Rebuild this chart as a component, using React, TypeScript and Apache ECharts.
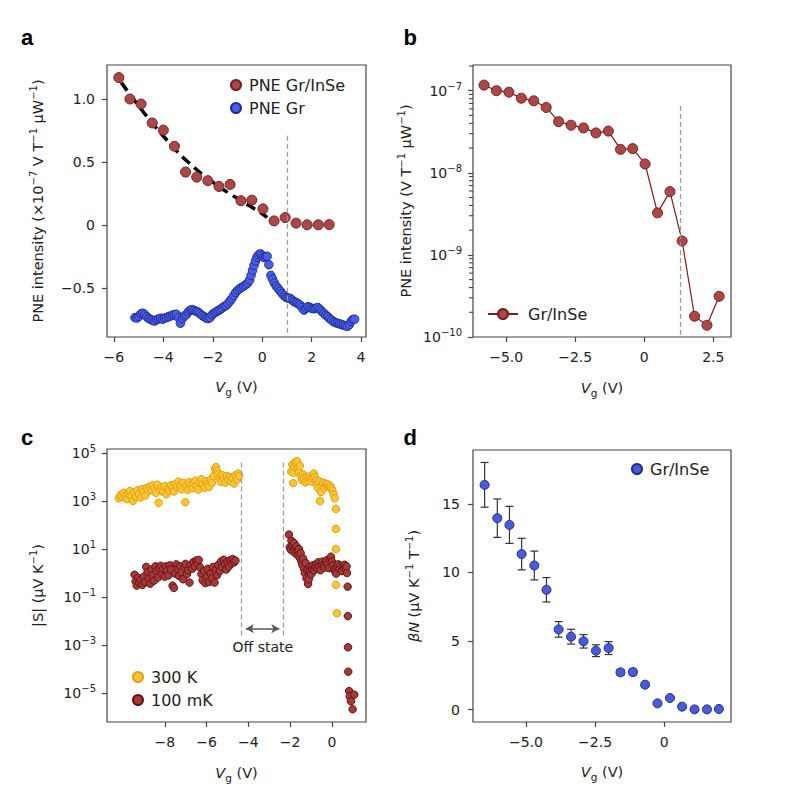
import React, { useEffect, useRef } from 'react';
import * as echarts from 'echarts';

const FONT = '"DejaVu Sans", "Liberation Sans", Arial, sans-serif';
const FONT_BOLD = '"Liberation Sans", Arial, sans-serif';
const TXT = '#222';
const FRAME = '#454545';

// ---------- Panels a & b: PNE of Gr/InSe ----------
const vgGrInSe = [-5.8, -5.35, -4.9, -4.45, -4.0, -3.55, -3.1, -2.65, -2.2, -1.75, -1.3, -0.86, -0.42, 0.03, 0.48, 0.93, 1.37, 1.82, 2.27, 2.71];
const pneGrInSe = [1.17e-7, 1.0e-7, 0.96e-7, 0.81e-7, 0.753e-7, 0.625e-7, 0.42e-7, 0.38e-7, 0.352e-7, 0.306e-7, 0.322e-7, 0.193e-7, 0.197e-7, 0.128e-7, 0.0325e-7, 0.059e-7, 0.0148e-7, 0.00179e-7, 0.00139e-7, 0.00313e-7];

// dashed black guide in panel a
const fitV = [-5.7, -4.7, -3.7, -3.0, -2.0, -1.0, 0.0, 0.2];
const fitVal = [1.13, 0.87, 0.64, 0.5, 0.34, 0.21, 0.09, 0.06];

// PNE of bare graphene (panel a, blue)
const grV = [-5.15, -5.07, -4.99, -4.91, -4.83, -4.75, -4.67, -4.59, -4.51, -4.43, -4.35, -4.27, -4.19, -4.11, -4.03, -3.95, -3.87, -3.79, -3.71, -3.63, -3.55, -3.47, -3.39, -3.31, -3.23, -3.15, -3.07, -2.99, -2.91, -2.83, -2.75, -2.67, -2.59, -2.51, -2.43, -2.35, -2.27, -2.19, -2.11, -2.03, -1.95, -1.87, -1.79, -1.71, -1.63, -1.55, -1.47, -1.39, -1.31, -1.23, -1.15, -1.07, -0.99, -0.91, -0.83, -0.75, -0.67, -0.59, -0.51, -0.45, -0.39, -0.33, -0.27, -0.21, -0.14, -0.07, 0.0, 0.07, 0.14, 0.2, 0.27, 0.35, 0.42, 0.49, 0.57, 0.65, 0.73, 0.81, 0.89, 0.97, 1.05, 1.13, 1.21, 1.29, 1.37, 1.45, 1.53, 1.61, 1.69, 1.77, 1.85, 1.93, 2.01, 2.09, 2.17, 2.25, 2.33, 2.41, 2.49, 2.57, 2.65, 2.73, 2.81, 2.89, 2.97, 3.05, 3.13, 3.21, 3.29, 3.37, 3.45, 3.53, 3.6, 3.67, 3.74];
const grVal = [-0.735, -0.738, -0.725, -0.705, -0.7, -0.712, -0.728, -0.742, -0.75, -0.758, -0.762, -0.752, -0.745, -0.74, -0.748, -0.738, -0.735, -0.728, -0.722, -0.715, -0.712, -0.708, -0.735, -0.78, -0.742, -0.722, -0.712, -0.69, -0.676, -0.672, -0.678, -0.685, -0.692, -0.705, -0.718, -0.728, -0.738, -0.742, -0.735, -0.712, -0.7, -0.69, -0.68, -0.672, -0.66, -0.648, -0.64, -0.625, -0.605, -0.585, -0.56, -0.535, -0.518, -0.505, -0.495, -0.485, -0.475, -0.462, -0.438, -0.4, -0.36, -0.32, -0.285, -0.255, -0.235, -0.228, -0.245, -0.258, -0.252, -0.248, -0.315, -0.4, -0.43, -0.46, -0.485, -0.505, -0.525, -0.545, -0.562, -0.575, -0.58, -0.582, -0.595, -0.608, -0.615, -0.625, -0.635, -0.655, -0.675, -0.66, -0.648, -0.655, -0.662, -0.665, -0.66, -0.655, -0.668, -0.685, -0.7, -0.715, -0.728, -0.742, -0.755, -0.768, -0.775, -0.78, -0.785, -0.79, -0.795, -0.8, -0.805, -0.79, -0.765, -0.75, -0.748];

// ---------- Panel c: |S| (µV/K) ----------
const s300K: [number, number][] = [
  [-10.2, 1.3e3], [-10.12, 1.8e3], [-10.05, 1.5e3], [-9.98, 2.2e3], [-9.9, 1.6e3], [-9.83, 1.2e3], [-9.76, 2.0e3], [-9.68, 2.6e3], [-9.6, 1.7e3], [-9.53, 1.0e3],
  [-9.46, 2.3e3], [-9.38, 1.5e3], [-9.31, 2.8e3], [-9.24, 1.9e3], [-9.16, 1.4e3], [-9.09, 3.2e3], [-9.02, 2.4e3], [-8.94, 1.7e3], [-8.87, 3.5e3], [-8.8, 2.6e3],
  [-8.72, 4.0e3], [-8.65, 2.9e3], [-8.58, 4.5e3], [-8.5, 3.3e3], [-8.43, 2.2e3], [-8.36, 4.8e3], [-8.3, 0.85e3], [-8.22, 3.0e3], [-8.15, 3.8e3], [-8.08, 2.4e3],
  [-8.0, 4.2e3], [-7.93, 1.9e3], [-7.86, 3.3e3], [-7.78, 2.7e3], [-7.71, 4.6e3], [-7.64, 3.6e3], [-7.56, 2.5e3], [-7.49, 5.2e3], [-7.42, 3.9e3], [-7.35, 6.5e3],
  [-7.27, 4.4e3], [-7.2, 3.1e3], [-7.13, 5.8e3], [-7.02, 0.9e3], [-6.98, 4.1e3], [-6.91, 2.9e3], [-6.84, 6.2e3], [-6.76, 4.7e3], [-6.69, 3.4e3], [-6.62, 5.5e3],
  [-6.54, 7.0e3], [-6.47, 4.2e3], [-6.4, 3.0e3], [-6.32, 6.0e3], [-6.25, 8.2e3], [-6.18, 4.9e3], [-6.1, 3.6e3], [-6.03, 6.8e3], [-5.96, 5.1e3], [-5.88, 3.9e3],
  [-5.81, 7.6e3], [-5.74, 5.8e3], [-5.67, 1.1e4], [-5.6, 2.2e4], [-5.55, 2.6e4], [-5.5, 1.8e4], [-5.44, 1.3e4], [-5.38, 9.0e3], [-5.32, 6.4e3], [-5.25, 1.2e4],
  [-5.18, 8.5e3], [-5.11, 5.9e3], [-5.04, 1.1e4], [-4.97, 7.7e3], [-4.9, 1.0e4], [-4.83, 6.6e3], [-4.76, 9.2e3], [-4.69, 5.4e3], [-4.62, 1.2e4], [-4.55, 8.0e3],
  [-4.48, 1.4e4], [-4.44, 1.1e4],
  [-1.95, 1.7e4], [-1.9, 3.3e4], [-1.86, 5.6e3], [-1.84, 1.5e4], [-1.8, 2.8e4], [-1.76, 4.2e4], [-1.7, 3.6e4], [-1.66, 4.6e4], [-1.62, 2.4e4], [-1.58, 1.6e4],
  [-1.54, 2.9e4], [-1.49, 1.1e4], [-1.44, 7.5e3], [-1.39, 1.3e4], [-1.34, 8.8e3], [-1.28, 6.0e3], [-1.22, 9.5e3], [-1.16, 7.0e3], [-1.1, 1.05e4], [-1.04, 8.2e3],
  [-0.98, 6.5e3], [-0.92, 9.0e3], [-0.87, 1.4e4], [-0.82, 1.0e4], [-0.77, 7.2e3], [-0.72, 5.0e3], [-0.67, 3.6e3], [-0.62, 6.8e3], [-0.57, 1.0e3], [-0.52, 2.4e3],
  [-0.47, 4.6e3], [-0.42, 5.8e3], [-0.36, 3.6e3], [-0.3, 5.3e3], [-0.25, 4.4e3], [-0.19, 5.0e3], [-0.13, 3.9e3], [-0.07, 4.2e3], [-0.02, 3.3e3], [0.03, 2.6e3],
  [0.08, 1.9e3], [0.13, 1.3e3], [0.19, 4.7e2], [0.19, 68], [0.19, 10], [0.19, 0.32], [0.24, 0.021],
];
const s100mK: [number, number][] = [
  [-9.45, 0.85], [-9.4, 0.45], [-9.35, 0.3], [-9.28, 0.62], [-9.22, 0.38], [-9.15, 0.52], [-9.08, 0.32], [-9.01, 0.7], [-8.95, 0.42], [-8.89, 1.8],
  [-8.83, 1.1], [-8.77, 0.58], [-8.7, 0.36], [-8.64, 1.4], [-8.58, 0.8], [-8.52, 0.48], [-8.45, 1.9], [-8.39, 1.2], [-8.33, 0.65], [-8.27, 1.6],
  [-8.2, 2.0], [-8.14, 0.95], [-8.08, 1.5], [-8.01, 0.7], [-7.95, 1.9], [-7.89, 1.25], [-7.82, 0.8], [-7.76, 2.1], [-7.7, 1.4], [-7.63, 0.3],
  [-7.57, 0.24], [-7.51, 0.95], [-7.45, 2.3], [-7.38, 1.5], [-7.32, 0.75], [-7.26, 1.9], [-7.2, 1.1], [-7.13, 0.55], [-7.07, 1.7], [-7.01, 2.4],
  [-6.94, 0.9], [-6.88, 1.3], [-6.82, 0.4], [-6.76, 2.2], [-6.69, 1.5], [-6.63, 2.9], [-6.57, 1.9], [-6.5, 3.3], [-6.44, 2.6], [-6.38, 3.5],
  [-6.31, 1.7], [-6.25, 0.9], [-6.19, 0.5], [-6.12, 1.2], [-6.06, 0.38], [-6.0, 0.7], [-5.94, 1.5], [-5.88, 0.42], [-5.81, 0.95], [-5.75, 0.6],
  [-5.69, 1.8], [-5.62, 0.4], [-5.56, 1.3], [-5.5, 0.8], [-5.44, 2.2], [-5.37, 1.2], [-5.31, 3.0], [-5.25, 1.8], [-5.18, 3.6], [-5.12, 2.4],
  [-5.06, 1.4], [-5.0, 2.9], [-4.93, 1.9], [-4.87, 3.4], [-4.81, 2.5], [-4.75, 3.8], [-4.68, 2.8], [-4.62, 3.3],
  [-2.06, 40], [-2.02, 12], [-1.98, 9.5], [-1.94, 22], [-1.9, 14], [-1.86, 8], [-1.82, 18], [-1.78, 11], [-1.74, 6.5], [-1.7, 13],
  [-1.66, 8.5], [-1.62, 5.5], [-1.58, 10], [-1.54, 4.2], [-1.5, 6.8], [-1.46, 3.0], [-1.42, 2.2], [-1.38, 4.0], [-1.34, 1.5], [-1.3, 1.0],
  [-1.26, 2.6], [-1.22, 0.6], [-1.18, 1.3], [-1.14, 0.35], [-1.11, 0.55], [-1.07, 1.2], [-1.03, 1.8], [-0.99, 0.9], [-0.95, 1.5], [-0.9, 2.1],
  [-0.85, 1.3], [-0.8, 1.8], [-0.75, 2.4], [-0.7, 1.6], [-0.65, 2.8], [-0.6, 1.9], [-0.55, 1.3], [-0.5, 2.5], [-0.45, 3.0], [-0.4, 2.1],
  [-0.35, 1.7], [-0.3, 2.8], [-0.25, 3.4], [-0.2, 2.3], [-0.15, 1.6], [-0.1, 3.8], [-0.05, 4.8], [0.0, 3.0], [0.05, 2.1], [0.1, 1.4],
  [0.15, 1.2], [0.2, 0.95], [0.25, 1.7], [0.3, 2.3], [0.36, 1.5], [0.42, 2.0], [0.48, 1.2], [0.54, 1.8], [0.6, 2.2], [0.65, 1.6],
  [0.7, 1.9], [0.72, 1.0], [0.75, 0.27], [0.76, 0.016], [0.77, 8e-4], [0.78, 7.7e-5], [0.82, 1.2e-5], [0.85, 7.2e-6], [0.91, 4.5e-6], [1.07, 8.5e-6],
  [0.99, 2.1e-6],
];
const offStateEdges = [-4.32, -2.32];

// ---------- Panel d: βN ----------
const dV = [-6.5, -6.04, -5.6, -5.16, -4.7, -4.26, -3.82, -3.37, -2.92, -2.47, -2.01, -1.58, -1.13, -0.69, -0.24, 0.21, 0.65, 1.1, 1.55, 1.98];
const dBetaN = [16.39, 13.96, 13.47, 11.34, 10.51, 8.74, 5.85, 5.32, 4.98, 4.3, 4.49, 2.72, 2.74, 1.82, 0.46, 0.85, 0.22, 0.02, 0.02, 0.05];
const dErr = [1.63, 1.4, 1.35, 1.15, 1.05, 0.89, 0.57, 0.54, 0.49, 0.43, 0.47, 0.22, 0.22, 0.1, 0.1, 0.1, 0.1, 0.1, 0.1, 0.1];

// tick values
const aXTicks = [-6, -4, -2, 0, 2, 4];
const aYTicks = [-0.5, 0, 0.5, 1.0];
const bXTicks = [-5, -2.5, 0, 2.5];
const bYDecades = [-10, -9, -8, -7];
const minorMult = [2, 3, 4, 5, 6, 7, 8, 9];
const cXTicks = [-8, -6, -4, -2, 0];
const cYDecades = [-5, -3, -1, 1, 3, 5];
const dXTicks = [-5, -2.5, 0];
const dYTicks = [0, 5, 10, 15];

const RED = '#a94848';
const RED_B = '#7b1c1c';
const BLUE = '#4a5ee0';
const BLUE_B = '#1e2d99';

const minus = (s: string) => s.replace('-', '\u2212');

const NAME_FS = 14.5;
const richBase = {
  t: { fontSize: NAME_FS, color: TXT, fontFamily: FONT },
  i: { fontSize: NAME_FS, color: TXT, fontFamily: FONT, fontStyle: 'italic' },
  s: { fontSize: 10, color: TXT, fontFamily: FONT, padding: [0, 0, 9, 0] },
  sub: { fontSize: 10.5, color: TXT, fontFamily: FONT, padding: [9, 0, 0, 0] },
};
const xName = '{i|V}{sub|g}{t| (V)}';
const tickLabel = { color: TXT, fontSize: 14, fontFamily: FONT };
const tickStyle = { length: 5, lineStyle: { color: FRAME, width: 1.2 } };
const noLine = { show: false, onZero: false };

function xAxis(grid: number, min: number, max: number, ticks: number[], fmt: (v: number) => string, nameGap: number) {
  return {
    type: 'value', gridIndex: grid, min, max,
    name: xName, nameLocation: 'middle', nameGap,
    nameTextStyle: { rich: richBase },
    axisLine: noLine,
    splitLine: { show: false },
    axisTick: { ...tickStyle, customValues: ticks },
    axisLabel: { ...tickLabel, margin: 13, customValues: ticks, formatter: fmt },
  };
}
function yAxis(grid: number, min: number, max: number, ticks: number[], fmt: (v: number) => string, name: string, nameGap: number, margin: number, rich: any = {}) {
  return {
    type: 'value', gridIndex: grid, min, max,
    name, nameLocation: 'middle', nameGap,
    nameTextStyle: { rich: richBase },
    axisLine: noLine,
    splitLine: { show: false },
    axisTick: { ...tickStyle, customValues: ticks },
    axisLabel: { ...tickLabel, margin, customValues: ticks, formatter: fmt, rich },
  };
}

const decimalFmt = (v: number) => (v === 0 ? '0' : minus(v.toFixed(1)));
const intFmt = (v: number) => minus(String(v));
const powRich = {
  b: { fontSize: 14, color: TXT, fontFamily: FONT },
  s: { fontSize: 10, color: TXT, fontFamily: FONT, padding: [0, 0, 9, 0] },
};
const powFmt = (v: number) => `{b|10}{s|${minus(String(v))}}`;
const legendText = { fontSize: 16, color: TXT, fontFamily: FONT, padding: [0, 0, 0, 3] };

function buildOption() {
  const bYMin = -10;
  const bYMax = -6.687;
  const bXMin = -6.2;
  const bMinor = bYDecades.flatMap((n) => minorMult.map((k) => n + Math.log10(k))).filter((v) => v < bYMax);
  const dashGray = { color: '#9a9a9a', width: 1.2, type: [5, 3] };

  return {
    animation: false,
    backgroundColor: '#fff',
    textStyle: { fontFamily: FONT },
    grid: [
      { left: 107, top: 65, width: 259, height: 272, show: true, borderColor: FRAME, borderWidth: 1.2 },
      { left: 473, top: 65, width: 258, height: 272, show: true, borderColor: FRAME, borderWidth: 1.2 },
      { left: 107, top: 449, width: 259, height: 273, show: true, borderColor: FRAME, borderWidth: 1.2 },
      { left: 473, top: 450, width: 258, height: 272, show: true, borderColor: FRAME, borderWidth: 1.2 },
    ],
    xAxis: [
      xAxis(0, -6.28, 4.2, aXTicks, intFmt, 40),
      xAxis(1, bXMin, 3.14, bXTicks, decimalFmt, 41),
      xAxis(2, -10.77, 1.63, cXTicks, intFmt, 41),
      xAxis(3, -6.92, 2.42, dXTicks, decimalFmt, 40),
    ],
    yAxis: [
      yAxis(0, -0.889, 1.27, aYTicks, decimalFmt, '{t|PNE intensity (×10}{s|\u22127}{t| V T}{s|\u22121}{t| μW}{s|\u22121}{t|)}', 60, 12),
      yAxis(1, bYMin, bYMax, bYDecades, powFmt, '{t|PNE intensity (V T}{s|\u22121}{t| μW}{s|\u22121}{t|)}', 58, 11, powRich),
      yAxis(2, -6.21, 5.17, cYDecades, powFmt, '{t||S| (μV K}{s|\u22121}{t|)}', 60, 11, powRich),
      yAxis(3, -0.9, 18.93, dYTicks, intFmt, '{i|βN}{t| (μV K}{s|\u22121}{t| T}{s|\u22121}{t|)}', 50, 13),
    ],
    legend: [
      {
        data: ['PNE Gr/InSe', 'PNE Gr'], left: 230, top: 77, orient: 'vertical', itemGap: 7, padding: 0,
        itemWidth: 10, itemHeight: 10, selectedMode: false, textStyle: legendText,
      },
      {
        data: ['Gr/InSe'], left: 487, top: 306, itemWidth: 30, itemHeight: 12.5, selectedMode: false, padding: 0,
        textStyle: { ...legendText, padding: [0, 0, 0, 5] },
      },
      {
        data: ['300 K', '100 mK'], left: 132, top: 669, orient: 'vertical', itemGap: 7, padding: 0,
        itemWidth: 10, itemHeight: 10, selectedMode: false, textStyle: legendText,
      },
      {
        data: ['Gr/InSe (d)'], left: 631, top: 461, itemWidth: 10, itemHeight: 10, selectedMode: false, padding: 0,
        formatter: () => 'Gr/InSe', textStyle: legendText,
      },
    ],
    graphic: [
      { type: 'text', x: 21, y: 37, style: { text: 'a', font: `bold 22px ${FONT_BOLD}`, fill: '#000', verticalAlign: 'middle' } },
      { type: 'text', x: 403.5, y: 37, style: { text: 'b', font: `bold 22px ${FONT_BOLD}`, fill: '#000', verticalAlign: 'middle' } },
      { type: 'text', x: 21, y: 437, style: { text: 'c', font: `bold 22px ${FONT_BOLD}`, fill: '#000', verticalAlign: 'middle' } },
      { type: 'text', x: 403.5, y: 437, style: { text: 'd', font: `bold 22px ${FONT_BOLD}`, fill: '#000', verticalAlign: 'middle' } },
    ],
    series: [
      {
        name: 'fit', type: 'line', xAxisIndex: 0, yAxisIndex: 0, smooth: true, showSymbol: false, silent: true, z: 2,
        data: fitV.map((v, i) => [v, fitVal[i]]),
        lineStyle: { color: '#000', width: 3.5, type: [10, 6] },
      },
      {
        name: 'PNE Gr/InSe', type: 'scatter', xAxisIndex: 0, yAxisIndex: 0, symbolSize: 10, z: 3,
        data: vgGrInSe.map((v, i) => [v, pneGrInSe[i] / 1e-7]),
        itemStyle: { color: RED, borderColor: RED_B, borderWidth: 1, opacity: 1 },
        markLine: {
          silent: true, symbol: 'none', label: { show: false }, lineStyle: dashGray,
          data: [[{ coord: [1.0, 0.709] }, { coord: [1.0, -0.889] }]],
        },
      },
      {
        name: 'PNE Gr', type: 'scatter', xAxisIndex: 0, yAxisIndex: 0, symbolSize: 8.5, z: 3,
        data: grV.map((v, i) => [v, grVal[i]]),
        itemStyle: { color: BLUE, borderColor: BLUE_B, borderWidth: 1, opacity: 1 },
      },
      {
        name: 'Gr/InSe', type: 'line', xAxisIndex: 1, yAxisIndex: 1, symbol: 'circle', symbolSize: 10, z: 3,
        data: vgGrInSe.map((v, i) => [v, Math.log10(pneGrInSe[i])]),
        lineStyle: { color: RED_B, width: 1.2 },
        itemStyle: { color: RED, borderColor: RED_B, borderWidth: 1 },
        markLine: {
          silent: true, symbol: 'none', label: { show: false }, lineStyle: dashGray,
          data: [[{ coord: [1.32, -7.187] }, { coord: [1.32, bYMin] }]],
        },
      },
      {
        // logarithmic minor ticks on the left axis of panel b
        name: 'minorTicks', type: 'custom', xAxisIndex: 1, yAxisIndex: 1, silent: true, clip: false, z: 5,
        data: bMinor.map((v) => [bXMin, v]),
        encode: { x: 0, y: 1 },
        renderItem: (_p: any, api: any) => {
          const p = api.coord([api.value(0), api.value(1)]);
          return {
            type: 'group',
            children: [
              {
                type: 'line',
                shape: { x1: p[0] - 4, y1: p[1], x2: p[0], y2: p[1] },
                style: { stroke: FRAME, lineWidth: 1.1 },
              },
            ],
          };
        },
      },
      {
        name: '300 K', type: 'scatter', xAxisIndex: 2, yAxisIndex: 2, symbolSize: 7.5, z: 3,
        data: s300K.map(([v, s]) => [v, Math.log10(s)]),
        itemStyle: { color: '#f8c630', borderColor: '#e79d1a', borderWidth: 1, opacity: 1 },
        markLine: {
          silent: true, symbol: 'none', label: { show: false }, lineStyle: dashGray,
          data: offStateEdges.map((x) => [{ coord: [x, 4.61] }, { coord: [x, -2.64] }]),
        },
      },
      {
        name: '100 mK', type: 'scatter', xAxisIndex: 2, yAxisIndex: 2, symbolSize: 7.5, z: 3,
        data: s100mK.map(([v, s]) => [v, Math.log10(s)]),
        itemStyle: { color: '#a23a3a', borderColor: '#6a1212', borderWidth: 1, opacity: 1 },
        markLine: {
          silent: true, symbol: ['arrow', 'arrow'], symbolSize: [7, 8], label: { show: false },
          lineStyle: { color: '#4d5966', width: 1.5, type: 'solid' },
          data: [[{ coord: [-4.12, -2.32] }, { coord: [-2.52, -2.32] }]],
        },
        markPoint: {
          silent: true, symbol: 'circle', symbolSize: 0,
          data: [{ coord: [-3.31, -3.07], label: { show: true, position: 'inside', formatter: 'Off state', color: TXT, fontSize: 14, fontFamily: FONT } }],
        },
      },
      {
        name: 'err', type: 'custom', xAxisIndex: 3, yAxisIndex: 3, silent: true, z: 2,
        data: dV.map((v, i) => [v, dBetaN[i] - dErr[i], dBetaN[i] + dErr[i]]),
        encode: { x: 0, y: [1, 2] },
        renderItem: (_p: any, api: any) => {
          const x = api.value(0);
          const lo = api.coord([x, api.value(1)]);
          const hi = api.coord([x, api.value(2)]);
          const w = 4;
          const st = { stroke: '#333', lineWidth: 1.2 };
          return {
            type: 'group',
            children: [
              { type: 'line', shape: { x1: lo[0], y1: lo[1], x2: hi[0], y2: hi[1] }, style: st },
              { type: 'line', shape: { x1: lo[0] - w, y1: lo[1], x2: lo[0] + w, y2: lo[1] }, style: st },
              { type: 'line', shape: { x1: hi[0] - w, y1: hi[1], x2: hi[0] + w, y2: hi[1] }, style: st },
            ],
          };
        },
      },
      {
        name: 'Gr/InSe (d)', type: 'scatter', xAxisIndex: 3, yAxisIndex: 3, symbolSize: 9, z: 3,
        data: dV.map((v, i) => [v, dBetaN[i]]),
        itemStyle: { color: '#4a5bd8', borderColor: '#1f2d8a', borderWidth: 1, opacity: 1 },
      },
    ],
  };
}

export default function App() {
  const ref = useRef<HTMLDivElement>(null);
  useEffect(() => {
    if (!ref.current) return;
    const chart = echarts.init(ref.current, undefined, { renderer: 'svg' });
    chart.setOption(buildOption() as any);
    return () => chart.dispose();
  }, []);
  return (
    <div
      ref={ref}
      style={{ position: 'absolute', left: 0, top: 0, width: 790, height: 796, background: '#fff' }}
    />
  );
}
